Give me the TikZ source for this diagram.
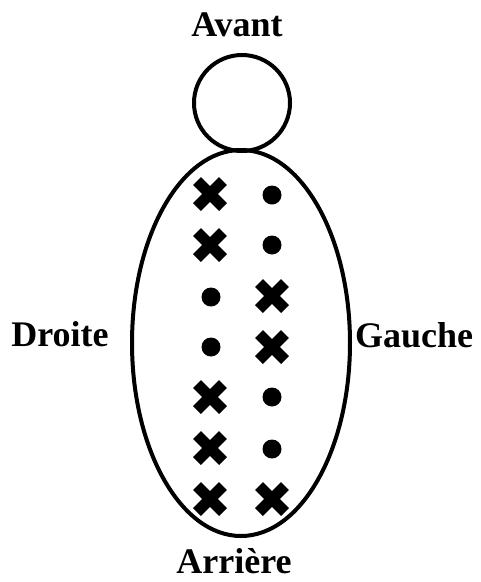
\documentclass[tikz,border=0pt]{standalone}
\usepackage{fontspec}
\setmainfont{Liberation Serif}
\usetikzlibrary{shapes.geometric}
\begin{document}
\begin{tikzpicture}[x=1pt,y=-1pt,
  lbl/.style={font=\fontsize{36}{40}\selectfont\bfseries, anchor=base, inner sep=0},
  xmark/.pic={\draw[line width=11pt] (-13,-13)--(13,13) (-13,13)--(13,-13);},
  dotmark/.style={fill=black}]
\useasboundingbox (0,0) rectangle (481,582);
\node (head) [circle, draw, line width=4pt, minimum size=96pt, inner sep=0] at (242,103) {};
\node (body) [ellipse, draw, line width=4pt, minimum width=218pt, minimum height=386pt, inner sep=0] at (241,343) {};
\node (avant) [lbl] at (237,36) {Avant};
\node (droite) [lbl] at (60,346) {Droite};
\node (gauche) [lbl] at (414,347) {Gauche};
\node (arriere) [lbl] at (234,573) {Arrière};
% left column
\pic at (210,194) {xmark};
\pic at (210,245) {xmark};
\fill[dotmark] (211,297) circle (9.5);
\fill[dotmark] (211,347) circle (9.5);
\pic at (210,397) {xmark};
\pic at (210,448) {xmark};
\pic at (210,499) {xmark};
% right column
\fill[dotmark] (272,195) circle (9.5);
\fill[dotmark] (272,245) circle (9.5);
\pic at (272,296) {xmark};
\pic at (272,347) {xmark};
\fill[dotmark] (272,397) circle (9.5);
\fill[dotmark] (272,449) circle (9.5);
\pic at (272,499) {xmark};
\end{tikzpicture}
\end{document}
